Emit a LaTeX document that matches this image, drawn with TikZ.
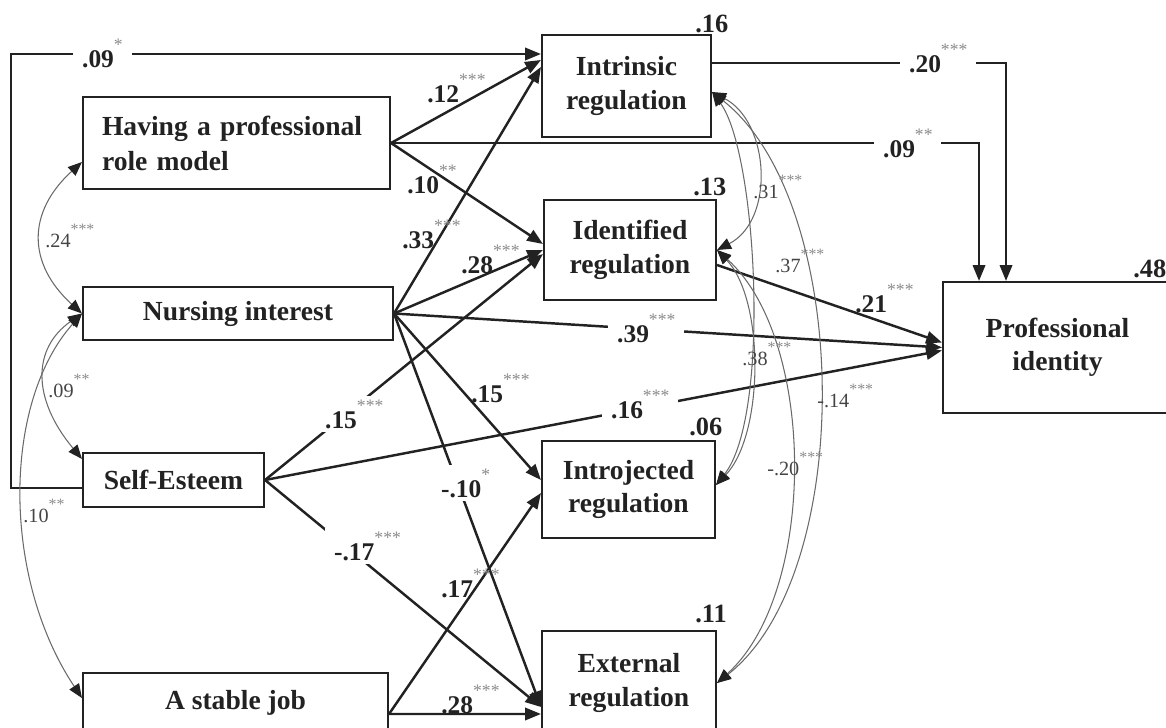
\documentclass[tikz,border=0pt]{standalone}
\usepackage{fontspec}
\setmainfont{Liberation Serif}
\usetikzlibrary{arrows.meta}
\definecolor{linec}{HTML}{222222}
\definecolor{textc}{HTML}{222222}
\definecolor{covc}{HTML}{6A6A6A}
\definecolor{covtext}{HTML}{444444}
\definecolor{starc}{HTML}{8A8A8A}
\newcommand\sg[1]{\raisebox{9.5pt}{\fontsize{10}{10}\selectfont\mdseries\color{starc}#1}}
\newcommand\sgc[1]{\raisebox{7pt}{\fontsize{9}{9}\selectfont\color{starc}#1}}
\tikzset{
  box/.style={draw=linec, line width=1.2pt, text=textc, align=center, inner sep=0pt,
    font=\fontsize{15.7}{19}\selectfont\bfseries},
  arr/.style={draw=linec, line width=1.4pt, -{Triangle[length=9pt,width=7pt]}},
  cov/.style={draw=covc, line width=0.6pt,
    {Triangle[length=8pt,width=6.5pt,color=linec]}-{Triangle[length=8pt,width=6.5pt,color=linec]}},
  lab/.style={font=\fontsize{14.5}{14.5}\selectfont\bfseries, text=textc, inner sep=0pt, anchor=base west},
  gap/.style={fill=white, inner xsep=5pt, inner ysep=2pt},
  clab/.style={font=\fontsize{11.5}{11.5}\selectfont, text=covtext, inner sep=0pt, anchor=base west},
  rsq/.style={font=\fontsize{15}{15}\selectfont\bfseries, text=textc, inner sep=0pt, anchor=base west}
}
\begin{document}
\begin{tikzpicture}[x=0.02cm,y=-0.02cm]
\useasboundingbox (0,0) rectangle (1166,727);
\clip (0,0) rectangle (1166,727);
% boxes
\node[box, minimum width=6.14cm, minimum height=1.84cm, text width=5.38cm, align=left, font=\fontsize{15.7}{20}\selectfont\bfseries] (have) at (236.5,143) {Having a professional\\role model};
\node[box, minimum width=6.2cm, minimum height=1.06cm] (nurs) at (238,313.5) {Nursing interest};
\node[box, minimum width=3.62cm, minimum height=1.08cm] (se) at (173.5,480) {Self-Esteem};
\node[box, minimum width=6.1cm, minimum height=1.2cm] (stable) at (235.5,703) {A stable job};
\node[box, minimum width=3.38cm, minimum height=2.04cm] (intr) at (626.5,86) {Intrinsic\\regulation};
\node[box, minimum width=3.44cm, minimum height=2.0cm] (ident) at (630,250) {Identified\\regulation};
\node[box, minimum width=3.46cm, minimum height=1.94cm] (introj) at (628.5,489.5) {Introjected\\regulation};
\node[box, minimum width=3.48cm, minimum height=2.08cm] (ext) at (629,683) {External\\regulation};
\node[box, minimum width=4.58cm, minimum height=2.62cm] (prof) at (1057.5,347.5) {Professional\\identity};
% R squared
\node[rsq] (r1) at (695,32) {.16};
\node[rsq] (r2) at (693,195) {.13};
\node[rsq] (r3) at (689,435) {.06};
\node[rsq] (r4) at (695,622) {.11};
\node[rsq] (r5) at (1133,277) {.48};
% directed paths
\draw[arr] ([yshift=-0.16cm]se.west) -- ++(-71,0) |- ([yshift=0.64cm]intr.west);
\draw[arr] (have.east) -- ([yshift=0.52cm]intr.west);
\draw[arr] (have.east) -- ([yshift=0.12cm]ident.west);
\draw[arr] (have.east) -| ([xshift=-1.57cm]prof.north);
\draw[arr] ([yshift=0.46cm]intr.east) -| ([xshift=-1.03cm]prof.north);
\draw[arr] (nurs.east) -- ([yshift=0.38cm]intr.west);
\draw[arr] (nurs.east) -- (ident.west);
\draw[arr] (nurs.east) -- (prof.west);
\draw[arr] (nurs.east) -- ([yshift=0.19cm]introj.west);
\draw[arr] (nurs.east) -- ([yshift=-0.48cm]ext.west);
\draw[arr] (se.east) -- ([yshift=-0.08cm]ident.west);
\draw[arr] (se.east) -- ([yshift=-0.06cm]prof.west);
\draw[arr] (se.east) -- ([yshift=-0.48cm]ext.west);
\draw[arr] ([yshift=-0.22cm]stable.east) -- ([yshift=-0.07cm]introj.west);
\draw[arr] ([yshift=-0.22cm]stable.east) -- ([yshift=-0.62cm]ext.west);
\draw[arr] ([yshift=-0.3cm]ident.east) -- ([yshift=0.1cm]prof.west);
% covariances
\draw[cov] ([yshift=-0.38cm]have.west) .. controls +(-55,50) and +(-55,-50) .. (nurs.west);
\draw[cov] (nurs.west) .. controls +(-50,35) and +(-50,-60) .. ([yshift=-0.14cm]se.north west);
\draw[cov] (nurs.west) .. controls +(-80,90) and +(-80,-120) .. ([yshift=0.1cm]stable.west);
\draw[cov] ([yshift=-0.12cm]intr.east) .. controls +(58,30) and +(58,-30) .. (ident.east);
\draw[cov] ([yshift=-0.12cm]intr.east) .. controls +(45,60) and +(55,-70) .. ([yshift=0.09cm]introj.east);
\draw[cov] ([yshift=-0.12cm]intr.east) .. controls +(140,110) and +(140,-110) .. (ext.east);
\draw[cov] (ident.east) .. controls +(48,50) and +(48,-50) .. ([yshift=0.09cm]introj.east);
\draw[cov] (ident.east) .. controls +(100,90) and +(100,-90) .. (ext.east);
% path labels
\node[lab,gap] (p1) at (73,67) {.09\sg{*}};
\node[lab] (p2) at (427,102) {.12\sg{***}};
\node[lab] (p3) at (407,193) {.10\sg{**}};
\node[lab] (p4) at (402,248) {.33\sg{***}};
\node[lab] (p5) at (461,273) {.28\sg{***}};
\node[lab,gap] (p6) at (608,342) {.39\sg{***}};
\node[lab] (p7) at (471,402) {.15\sg{***}};
\node[lab,gap] (p8) at (432,497) {-.10\sg{*}};
\node[lab,gap] (p9) at (316,428) {.15\sg{***}};
\node[lab,gap] (p10) at (602,418) {.16\sg{***}};
\node[lab,gap] (p11) at (325,560) {-.17\sg{***}};
\node[lab] (p12) at (441,597) {.17\sg{***}};
\node[lab] (p13) at (441,713) {.28\sg{***}};
\node[lab] (p14) at (855,312) {.21\sg{***}};
\node[lab,gap] (p15) at (900,72) {.20\sg{***}};
\node[lab,gap] (p16) at (874,157) {.09\sg{**}};
% covariance labels
\node[clab] (c1) at (45,247) {.24\sgc{***}};
\node[clab] (c2) at (48,397) {.09\sgc{**}};
\node[clab] (c3) at (23,522) {.10\sgc{**}};
\node[clab] (c4) at (753,198) {.31\sgc{***}};
\node[clab] (c5) at (775,272) {.37\sgc{***}};
\node[clab] (c6) at (742,365) {.38\sgc{***}};
\node[clab] (c7) at (817,407) {-.14\sgc{***}};
\node[clab] (c8) at (767,475) {-.20\sgc{***}};
\end{tikzpicture}
\end{document}
